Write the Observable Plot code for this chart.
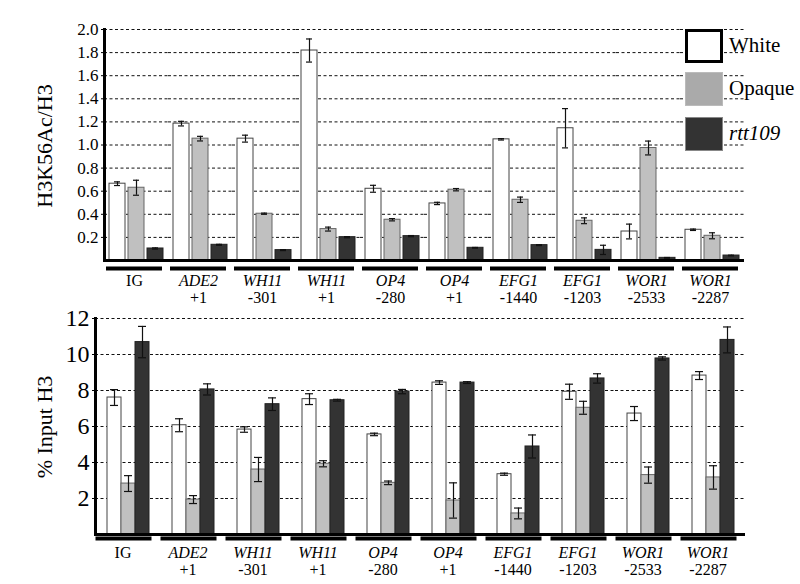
<!DOCTYPE html>
<html><head><meta charset="utf-8">
<script src="https://cdn.jsdelivr.net/npm/d3@7"></script>
<script src="https://cdn.jsdelivr.net/npm/@observablehq/plot@0.6"></script>
<style>
body{margin:0;background:#fff;font-family:"Liberation Serif","Times New Roman",serif;color:#000;}
#wrap{position:relative;width:800px;height:584px;overflow:hidden;background:#fff;}
.panel{position:absolute;left:0;}
.panel svg, .panel svg text{font-family:"Liberation Serif","Times New Roman",serif !important;}
.ytitle{position:absolute;transform:translate(-50%,-50%) rotate(-90deg);white-space:nowrap;line-height:1;}
.lbox{position:absolute;left:685px;width:38px;height:34px;box-sizing:border-box;}
.ltext{position:absolute;left:729px;font-size:21px;line-height:34px;}
</style></head><body>
<div id="wrap">
  <div id="top" class="panel" style="top:0px"></div>
  <div id="bottom" class="panel" style="top:305px"></div>
  <div class="ytitle" style="left:45px;top:146px;font-size:22px">H3K56Ac/H3</div>
  <div class="ytitle" style="left:45px;top:427px;font-size:22px">% Input H3</div>
  <div class="lbox" style="top:29px;background:#fff;border:3px solid #000"></div>
  <div class="ltext" style="top:28px">White</div>
  <div class="lbox" style="top:72px;background:#aaa;border:1px solid #bbb"></div>
  <div class="ltext" style="top:71px">Opaque</div>
  <div class="lbox" style="top:117px;background:#333;border:1px solid #888"></div>
  <div class="ltext" style="top:116px;font-style:italic">rtt109</div>
</div>
<script>
const genes = ["IG","ADE2","WH11","WH11","OP4","OP4","EFG1","EFG1","WOR1","WOR1"];
const positions = ["","+1","-301","+1","-280","+1","-1440","-1203","-2533","-2287"];
const series = ["White","Opaque","rtt109"];

const topWhite    = [0.665,1.185,1.055,1.818,0.621,0.494,1.049,1.145,0.251,0.266];
const topWhiteErr = [0.016,0.020,0.030,0.100,0.030,0.010,0.006,0.170,0.064,0.006];
const topOpaque    = [0.630,1.055,0.405,0.272,0.353,0.613,0.526,0.344,0.974,0.214];
const topOpaqueErr = [0.065,0.020,0.005,0.017,0.010,0.010,0.023,0.025,0.060,0.026];
const topRtt    = [0.104,0.136,0.090,0.202,0.211,0.110,0.133,0.092,0.023,0.043];
const topRttErr = [0.005,0.004,0.004,0.005,0.005,0.003,0.004,0.040,0.003,0.003];

const botWhite    = [7.61,6.07,5.83,7.52,5.56,8.44,3.35,7.93,6.72,8.83];
const botWhiteErr = [0.44,0.36,0.15,0.30,0.07,0.10,0.06,0.42,0.39,0.22];
const botOpaque    = [2.83,1.94,3.61,3.93,2.87,1.89,1.17,7.04,3.30,3.17];
const botOpaqueErr = [0.44,0.22,0.67,0.17,0.10,0.98,0.30,0.36,0.45,0.65];
const botRtt    = [10.69,8.06,7.24,7.46,7.94,8.44,4.89,8.67,9.78,10.81];
const botRttErr = [0.87,0.31,0.35,0.05,0.12,0.05,0.64,0.26,0.09,0.72];

const topTicks = [0.2,0.4,0.6,0.8,1.0,1.2,1.4,1.6,1.8,2.0];
const botTicks = [2,4,6,8,10,12];

const FONT = "Liberation Serif, Times New Roman, serif";
const keys = genes.map((g,i)=>i + ":" + g + " " + positions[i]);
const labels = genes.map((g,i)=>({key: keys[i], gene: g, pos: positions[i]}));

const barStyle = {
  White:  {fill:"#ffffff", stroke:"#444"},
  Opaque: {fill:"#c0c0c0", stroke:"#666"},
  rtt109: {fill:"#333333", stroke:"#222"}
};

function panel(o) {
  const rows = [];
  keys.forEach((k,i)=>{
    rows.push({key:k, s:"White",  v:o.W[i], e:o.WE[i]});
    rows.push({key:k, s:"Opaque", v:o.O[i], e:o.OE[i]});
    rows.push({key:k, s:"rtt109", v:o.R[i], e:o.RE[i]});
  });
  const marks = [
    Plot.ruleY(o.ticks, {stroke:"#111", strokeWidth:1, strokeDasharray:"3,2.5"}),
    ...series.map(s => Plot.barY(rows.filter(d=>d.s===s), {fx:"key", x:"s", y:"v", fill:barStyle[s].fill, stroke:barStyle[s].stroke, strokeWidth:1})),
    Plot.ruleX(rows, {fx:"key", x:"s", y1:d=>d.v-d.e, y2:d=>d.v+d.e, stroke:"#111", strokeWidth:1.2}),
    Plot.tickY(rows, {fx:"key", x:"s", y:d=>d.v+d.e, stroke:"#111", strokeWidth:1.2, insetLeft:o.capInset, insetRight:o.capInset}),
    Plot.tickY(rows, {fx:"key", x:"s", y:d=>d.v-d.e, stroke:"#111", strokeWidth:1.2, insetLeft:o.capInset, insetRight:o.capInset}),
    Plot.ruleY([0], {stroke:"#000", strokeWidth:3}),
    Plot.ruleY([0], {stroke:"#000", strokeWidth:4, dy:o.barDy, insetLeft:o.barInsetL, insetRight:o.barInsetR}),
    Plot.frame({anchor:"left", facetAnchor:"left", stroke:"#000", strokeWidth:3}),
    Plot.axisY({ticks:o.ticks, tickFormat:o.fmt, tickSize:3, tickPadding:3, fontSize:o.tickFont, fontFamily:FONT, label:null, stroke:"#000"}),
    Plot.text(labels.filter(d=>d.gene!=="IG"), {fx:"key", text:"gene", frameAnchor:"bottom", lineAnchor:"middle", dy:o.lab1, dx:o.labDx, fontStyle:"italic", fontSize:o.labFont, fontFamily:FONT}),
    Plot.text(labels.filter(d=>d.gene==="IG"), {fx:"key", text:"gene", frameAnchor:"bottom", lineAnchor:"middle", dy:o.lab1, dx:o.labDx, fontSize:o.labFont, fontFamily:FONT}),
    Plot.text(labels, {fx:"key", text:"pos", frameAnchor:"bottom", lineAnchor:"middle", dy:o.lab2, dx:o.labDx, fontSize:o.labFont, fontFamily:FONT})
  ];
  return Plot.plot({
    width:800, height:o.height,
    marginTop:o.mt, marginBottom:o.mb, marginLeft:o.ml, marginRight:o.mr,
    fx:{domain:keys, padding:0, axis:null, label:null},
    x:{domain:series, paddingInner:o.padIn, paddingOuter:o.padOut, axis:null},
    y:{domain:o.yDomain, axis:null},
    style:{fontFamily:FONT, color:"#000", background:"transparent", overflow:"visible"},
    marks
  });
}

document.getElementById("top").append(panel({
  W:topWhite, WE:topWhiteErr, O:topOpaque, OE:topOpaqueErr, R:topRtt, RE:topRttErr,
  yDomain:[0,2], ticks:topTicks, fmt:d3.format(".1f"), tickFont:17, labFont:16,
  height:305, mt:29, mb:45, ml:100, mr:52, padIn:0.15, padOut:0.2, capInset:5,
  barDy:8, barInsetL:2, barInsetR:6, lab1:20, lab2:37, labDx:-2
}));
document.getElementById("bottom").append(panel({
  W:botWhite, WE:botWhiteErr, O:botOpaque, OE:botOpaqueErr, R:botRtt, RE:botRttErr,
  yDomain:[0,12], ticks:botTicks, fmt:d3.format("d"), tickFont:24, labFont:16,
  height:279, mt:13, mb:50, ml:95, mr:55, padIn:0, padOut:0.76, capInset:3,
  barDy:4, barInsetL:0.5, barInsetR:8.5, lab1:18, lab2:35, labDx:-5
}));
</script>
</body></html>
